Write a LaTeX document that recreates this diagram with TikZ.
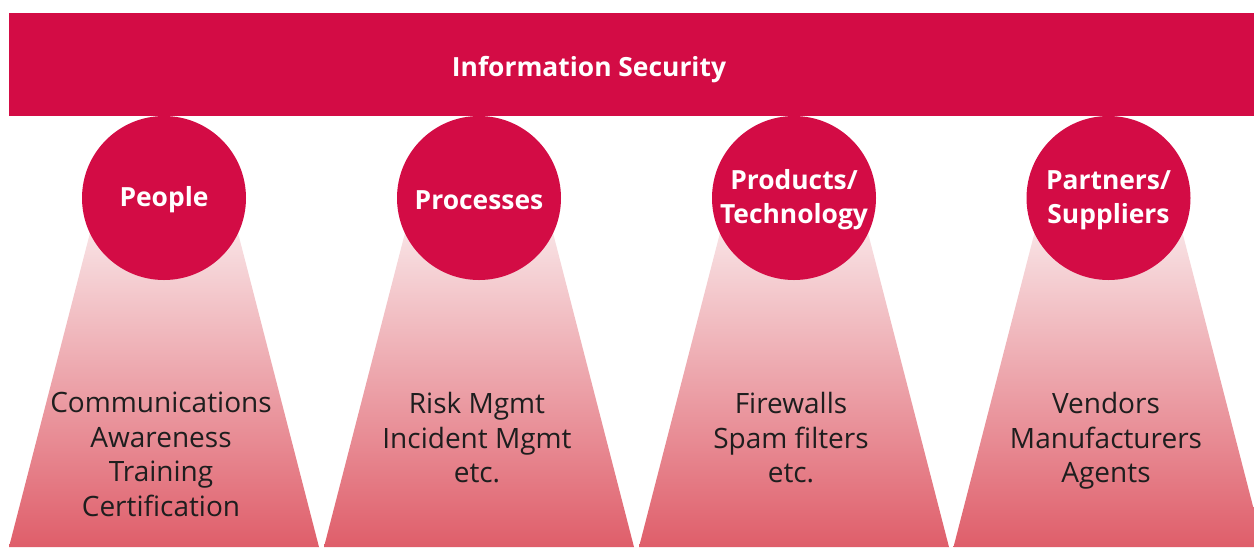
\documentclass[tikz,border=0pt]{standalone}
\usepackage{fontspec}
\setmainfont{Open Sans}
\definecolor{brand}{RGB}{211,12,69}
\definecolor{fadetop}{RGB}{251,240,241}
\definecolor{fadebot}{RGB}{223,94,106}
\definecolor{ink}{RGB}{30,30,30}
\begin{document}
\begin{tikzpicture}[x=0.5pt,y=-0.5pt,
  banner/.style={fill=brand,draw=none,inner sep=0,minimum width=622.5pt,minimum height=51.5pt},
  titletext/.style={text=white,inner sep=0,font=\bfseries\fontsize{13.2}{16}\selectfont},
  pillar/.style={circle,fill=brand,draw=none,minimum size=82pt,inner sep=0,align=center,
    text=white,font=\bfseries\fontsize{13.2}{17}\selectfont},
  items/.style={anchor=north,inner sep=0,align=center,text=ink,
    font=\fontsize{14}{17.25}\selectfont},
  beam/.style={top color=fadetop,bottom color=fadebot,draw=none}]
\useasboundingbox (0,0) rectangle (1254,547);

% header band
\node[banner] (band) at (631.5,64.5) {};
\node[titletext] (title) at (589,70) {Information Security};

% light beams below each pillar
\foreach \cx in {164,479,794,1108.5}{
  \shade[beam] (\cx-65,198) -- (\cx+65,198) -- (\cx+155,547) -- (\cx-155,547) -- cycle;
}

% pillars
\node[pillar] (people)    at (164,198)    {};
\node[pillar] (processes) at (479,198)    {};
\node[pillar] (products)  at (794,198)    {};
\node[pillar] (partners)  at (1108.5,198) {};
\node[pillar,fill=none] (peoplelabel)    at ([yshift=-1pt]people.center)    {People};
\node[pillar,fill=none] (processlabel)   at ([yshift=-1pt]processes.center) {Processes};
\node[pillar,fill=none] (productlabel)   at ([yshift=-1pt]products.center)  {Products/\\Technology};
\node[pillar,fill=none] (partnerlabel)   at ([yshift=-1pt]partners.center)  {Partners/\\Suppliers};

% contents of each pillar
\node[items] (peopleitems)    at (161,392)    {Communications\\Awareness\\Training\\Certification};
\node[items] (processitems)   at (477,392)    {Risk Mgmt\\Incident Mgmt\\etc.};
\node[items] (productitems)   at (791,392)    {Firewalls\\Spam filters\\etc.};
\node[items] (partneritems)   at (1106,392)   {Vendors\\Manufacturers\\Agents};
\end{tikzpicture}
\end{document}
